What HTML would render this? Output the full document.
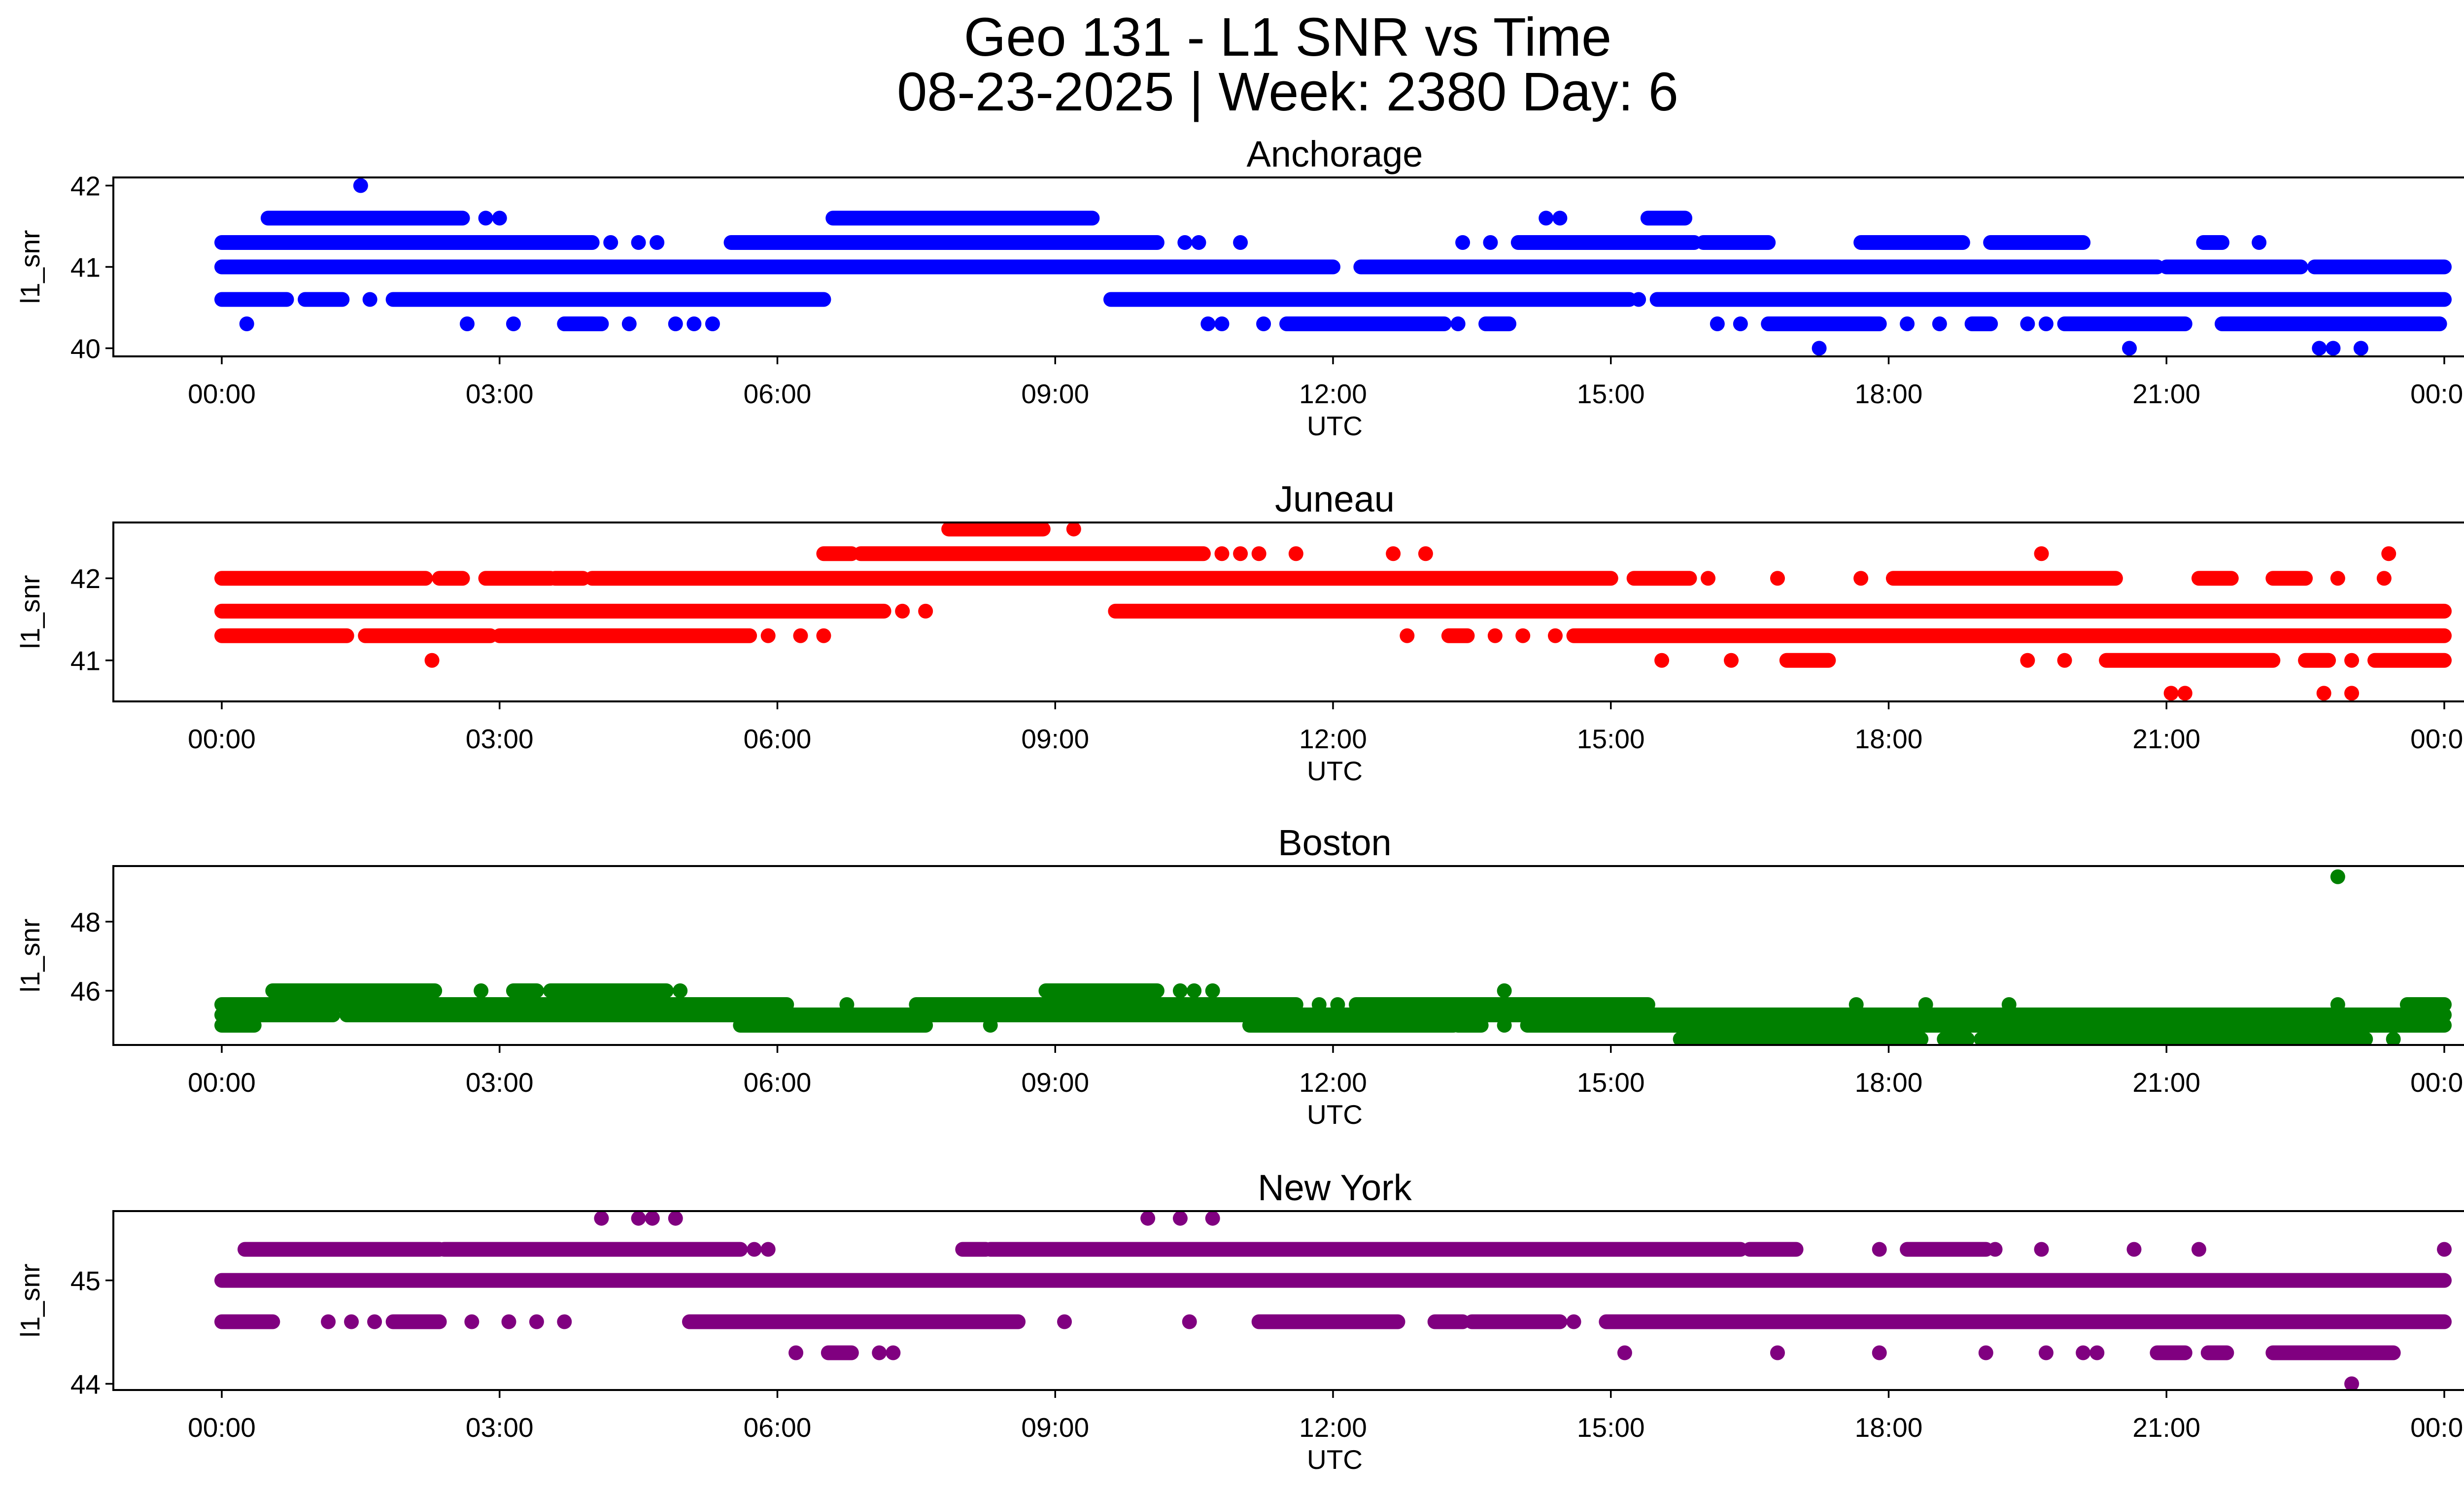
<!DOCTYPE html>
<html><head><meta charset="utf-8"><style>
html,body{margin:0;padding:0;background:#fff;}
svg{display:block;font-family:"Liberation Sans",sans-serif;}
</style></head><body>
<svg id="fig" width="5226" height="3033" viewBox="0 0 5226 3033" xmlns="http://www.w3.org/2000/svg">
<rect width="5226" height="3033" fill="#fff"/>
<text x="2613" y="113" font-size="110" text-anchor="middle">Geo 131 - L1 SNR vs Time</text>
<text x="2613" y="224" font-size="110" text-anchor="middle">08-23-2025 | Week: 2380 Day: 6</text>
</svg>
<script>
// ---------- data: runs are [value, startHour, endHour], dots are [value, hour] ----------
const hourTicks = [0,3,6,9,12,15,18,21,24];
const hourTickLabels = ["00:00","03:00","06:00","09:00","12:00","15:00","18:00","21:00","00:00"];
const panelNames = ["Anchorage","Juneau","Boston","New York"];
const panelColors = ["#0000ff","#ff0000","#008000","#800080"];

const anchorageYTicks = [40,41,42];
const anchorageRuns = [[41.0,0,12.0],[41.0,12.3,20.9],[41.0,21.0,22.45],[41.0,22.6,24],
 [41.3,0,4.0],[41.3,5.5,10.1],[41.3,14.0,15.9],[41.3,16.0,16.7],[41.3,17.7,18.8],[41.3,19.1,20.1],[41.3,21.4,21.6],
 [41.6,0.5,2.6],[41.6,6.6,9.4],[41.6,15.4,15.8],
 [40.6,0,0.7],[40.6,0.9,1.3],[40.6,1.85,6.5],[40.6,9.6,15.2],[40.6,15.5,24],
 [40.3,3.7,4.1],[40.3,11.5,13.2],[40.3,13.65,13.9],[40.3,16.7,17.9],[40.3,18.9,19.1],[40.3,19.9,21.2],[40.3,21.6,23.95]];
const anchorageDots = [[42.0,1.5],[41.3,4.2],[41.3,4.5],[41.3,4.7],[41.3,10.4],[41.3,10.55],[41.3,11.0],[41.3,13.4],[41.3,13.7],[41.3,22.0],
 [41.6,2.85],[41.6,3.0],[41.6,14.3],[41.6,14.45],[40.6,1.6],[40.6,15.3],
 [40.3,0.27],[40.3,2.65],[40.3,3.15],[40.3,4.4],[40.3,4.9],[40.3,5.1],[40.3,5.3],[40.3,10.65],[40.3,10.8],[40.3,11.25],[40.3,13.35],
 [40.3,16.15],[40.3,16.4],[40.3,18.2],[40.3,18.55],[40.3,19.5],[40.3,19.7],
 [40.0,17.25],[40.0,20.6],[40.0,22.65],[40.0,22.8],[40.0,23.1]];

const juneauYTicks = [41,42];
const juneauRuns = [[42.6,7.85,8.87],[42.3,6.5,6.8],[42.3,6.9,10.6],
 [42.0,0,2.2],[42.0,2.35,2.6],[42.0,2.85,3.55],[42.0,3.6,3.9],[42.0,4.0,15.0],[42.0,15.25,15.85],[42.0,18.05,20.45],[42.0,21.35,21.7],[42.0,22.15,22.5],
 [41.6,0,7.15],[41.6,9.65,24],
 [41.3,0,1.35],[41.3,1.55,2.9],[41.3,3.0,5.7],[41.3,13.25,13.45],[41.3,14.6,24],
 [41.0,16.9,17.35],[41.0,20.35,22.15],[41.0,22.5,22.75],[41.0,23.25,24]];
const juneauDots = [[42.6,9.2],[42.3,10.8],[42.3,11.0],[42.3,11.2],[42.3,11.6],[42.3,12.65],[42.3,13.0],[42.3,19.65],[42.3,23.4],
 [42.0,16.05],[42.0,16.8],[42.0,17.7],[42.0,22.85],[42.0,23.35],
 [41.6,7.35],[41.6,7.6],[41.3,5.9],[41.3,6.25],[41.3,6.5],[41.3,12.8],[41.3,13.75],[41.3,14.05],[41.3,14.4],
 [41.0,2.27],[41.0,15.55],[41.0,16.3],[41.0,19.5],[41.0,19.9],[41.0,23.0],
 [40.6,21.05],[40.6,21.2],[40.6,22.7],[40.6,23.0]];

const bostonYTicks = [46,48];
const bostonRuns = [[46.0,0.55,2.3],[46.0,3.15,3.4],[46.0,3.55,4.8],[46.0,8.9,10.1],
 [45.6,0,6.1],[45.6,7.5,11.6],[45.6,12.25,15.4],[45.6,23.6,24],
 [45.3,0,1.2],[45.3,1.35,24],
 [45.0,0,0.35],[45.0,5.6,7.6],[45.0,11.1,13.3],[45.0,13.35,13.6],[45.0,14.1,24],
 [44.6,15.75,18.35],[44.6,18.6,18.85],[44.6,19.0,20.5],[44.6,20.55,23.15]];
const bostonDots = [[49.3,22.85],[46.0,2.8],[46.0,4.95],[46.0,10.35],[46.0,10.5],[46.0,10.7],[46.0,13.85],
 [45.6,6.75],[45.6,11.85],[45.6,12.05],[45.6,17.65],[45.6,18.4],[45.6,19.3],[45.6,22.85],
 [45.0,8.3],[45.0,13.85],[44.6,23.45]];

const newYorkYTicks = [44,45];
const newYorkRuns = [[45.3,0.25,2.35],[45.3,2.4,5.6],[45.3,8.0,8.25],[45.3,8.3,16.4],[45.3,16.5,17.0],[45.3,18.2,19.05],
 [45.0,0,24],
 [44.6,0,0.55],[44.6,1.85,2.35],[44.6,5.05,8.6],[44.6,11.2,12.7],[44.6,13.1,13.4],[44.6,13.5,14.45],[44.6,14.95,24],
 [44.3,6.55,6.8],[44.3,20.9,21.2],[44.3,21.45,21.65],[44.3,22.15,23.45]];
const newYorkDots = [[45.6,4.1],[45.6,4.5],[45.6,4.65],[45.6,4.9],[45.6,10.0],[45.6,10.35],[45.6,10.7],
 [45.3,5.75],[45.3,5.9],[45.3,17.9],[45.3,19.15],[45.3,19.65],[45.3,20.65],[45.3,21.35],[45.3,24],
 [44.6,1.15],[44.6,1.4],[44.6,1.65],[44.6,2.7],[44.6,3.1],[44.6,3.4],[44.6,3.7],[44.6,9.1],[44.6,10.45],[44.6,14.6],
 [44.3,6.2],[44.3,7.1],[44.3,7.25],[44.3,15.15],[44.3,16.8],[44.3,17.9],[44.3,19.05],[44.3,19.7],[44.3,20.1],[44.3,20.25],
 [44.0,23.0]];

const yRanges = [[39.9,42.1],[40.5,42.68],[44.43,49.61],[43.94,45.67]];
const allYTicks = [anchorageYTicks,juneauYTicks,bostonYTicks,newYorkYTicks];
const allRuns = [anchorageRuns,juneauRuns,bostonRuns,newYorkRuns];
const allDots = [anchorageDots,juneauDots,bostonDots,newYorkDots];

// ---------- drawing ----------
const NS = "http://www.w3.org/2000/svg";
const svg = document.getElementById("fig");
const L = 230, R = 5187, H = 363;
const tops = [360,1060,1757,2457];
const x0 = 450, xPerHour = (4960-450)/24;
const R_MARK = 15;
function mk(tag, attrs, parent){ const e=document.createElementNS(NS,tag); for(const k in attrs) e.setAttribute(k,attrs[k]); (parent||svg).appendChild(e); return e; }
function xScale(h){ return x0 + h*xPerHour; }

panelNames.forEach((name,i)=>{
  const top = tops[i], bot = top+H;
  const [lo,hi] = yRanges[i];
  const yScale = v => bot - (v-lo)/(hi-lo)*H;
  const slug = name.toLowerCase().replace(/ /g,'-');
  const g = mk("g",{});
  
  
  const clipId = "clip"+i;
  const cp = mk("clipPath",{id:clipId},g); mk("rect",{x:L,y:top,width:R-L,height:H},cp);
  const marks = mk("g",{"clip-path":"url(#"+clipId+")"},g);
  
  
  allRuns[i].forEach(r=>{
    const ln = mk("line",{x1:xScale(r[1]),x2:xScale(r[2]),y1:yScale(r[0]),y2:yScale(r[0]),stroke:panelColors[i],"stroke-width":2*R_MARK,"stroke-linecap":"round"},marks);
    
    
  });
  allDots[i].forEach(d=>{
    const c = mk("circle",{cx:xScale(d[1]),cy:yScale(d[0]),r:R_MARK,fill:panelColors[i]},marks);
    
    
  });
  const frame = mk("rect",{x:L,y:top,width:R-L,height:H,fill:"none",stroke:"#000","stroke-width":4},g);
  
  
  hourTicks.forEach((h,k)=>{
    const x = xScale(h);
    mk("line",{x1:x,x2:x,y1:bot,y2:bot+16,stroke:"#000","stroke-width":3.5},g);
    const t = mk("text",{x:x,y:bot+95,"font-size":55,"text-anchor":"middle"},g);
    t.textContent = hourTickLabels[k];
    
    
  });
  allYTicks[i].forEach(v=>{
    const y = yScale(v);
    mk("line",{x1:L-16,x2:L,y1:y,y2:y,stroke:"#000","stroke-width":3.5},g);
    const t = mk("text",{x:L-26,y:y+20,"font-size":55,"text-anchor":"end"},g);
    t.textContent = v;
    
    
  });
  const title = mk("text",{x:(L+R)/2,y:top-22,"font-size":74,"text-anchor":"middle"},g);
  title.textContent = name;
  
  
  const xl = mk("text",{x:(L+R)/2,y:bot+160,"font-size":55,"text-anchor":"middle"},g);
  xl.textContent = "UTC";
  
  
  const yc = top+H/2;
  const yl = mk("text",{x:0,y:0,"font-size":55,"text-anchor":"middle",transform:"translate(80,"+yc+") rotate(-90)"},g);
  yl.textContent = "l1_snr";
  
  
});
</script>
</body></html>
